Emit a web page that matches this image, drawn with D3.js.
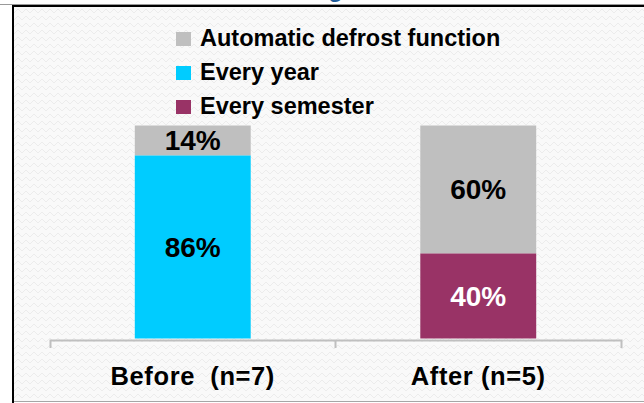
<!doctype html>
<html lang="en">
<head>
    <meta charset="utf-8">
    <title>Defrost frequency</title>
    <script src="https://cdnjs.cloudflare.com/ajax/libs/d3/7.8.5/d3.min.js"></script>
    <style>
        body { margin: 0; background: #fff; }
        svg text { font-family: "Liberation Sans", Arial, sans-serif; font-weight: bold; }
    </style>
</head>
<body>
    <div id="chart"></div>
    <script>
        // chart data
        var categories = ["Before  (n=7)", "After (n=5)"];
        var seriesNames = ["Automatic defrost function", "Every year", "Every semester"];
        var autoDefrost = [14, 60];
        var everyYear = [86, 0];
        var everySemester = [0, 40];
        var seriesColors = ["#BFBFBF", "#00CCFF", "#993366"];
        var labelColors = ["#000", "#000", "#fff"];

        var width = 644, height = 403;

        var svg = d3.select("#chart").append("svg")
            .attr("width", width)
            .attr("height", height);

        // faint zigzag background
        var pat = svg.append("defs").append("pattern")
            .attr("id", "zig")
            .attr("patternUnits", "userSpaceOnUse")
            .attr("width", 8).attr("height", 7);
        pat.append("rect").attr("width", 8).attr("height", 7).attr("fill", "#F9F9F9");
        pat.append("path")
            .attr("d", "M0,4 L2,2 L4,4 L6,6 L8,4")
            .attr("fill", "none")
            .attr("stroke", "#ECECEC")
            .attr("stroke-width", 1);

        svg.append("rect")
            .attr("x", 13).attr("y", 6)
            .attr("width", width - 13).attr("height", 395)
            .attr("fill", "url(#zig)");

        // title, cut off by the top of the picture
        svg.append("text")
            .attr("x", 343).attr("y", -3)
            .attr("text-anchor", "end")
            .attr("fill", "#1F5C99")
            .style("font-size", "24px")
            .text("Defrosting");

        // frame
        svg.append("line").attr("x1", 0).attr("x2", width).attr("y1", 4.5).attr("y2", 4.5)
            .attr("stroke", "#999").attr("stroke-width", 1);
        svg.append("line").attr("x1", 12).attr("x2", width).attr("y1", 6).attr("y2", 6)
            .attr("stroke", "#000").attr("stroke-width", 2);
        svg.append("line").attr("x1", 13).attr("x2", 13).attr("y1", 5).attr("y2", height)
            .attr("stroke", "#000").attr("stroke-width", 2);
        svg.append("line").attr("x1", 14).attr("x2", width).attr("y1", 401.5).attr("y2", 401.5)
            .attr("stroke", "#A6A6A6").attr("stroke-width", 1);

        // scales
        var x = d3.scaleBand().domain(categories).range([50, 621]).padding(0);
        var xBar = d3.scaleBand().domain(categories).range([50, 621])
            .paddingInner(0.594).paddingOuter(0.297);
        var y = d3.scaleLinear().domain([0, 100]).range([338.5, 125.5]);

        // stack: bottom segments first, automatic defrost on top
        var rows = categories.map(function(c, i) {
            return {
                cat: c,
                "Automatic defrost function": autoDefrost[i],
                "Every year": everyYear[i],
                "Every semester": everySemester[i]
            };
        });
        var stackKeys = ["Every year", "Every semester", "Automatic defrost function"];
        var stacked = d3.stack().keys(stackKeys)(rows);

        var layers = svg.append("g").selectAll("g.layer")
            .data(stacked)
            .enter().append("g")
            .attr("class", "layer");

        layers.each(function(layer) {
            var idx = seriesNames.indexOf(layer.key);
            var g = d3.select(this);
            var segs = layer.filter(function(d) { return d[1] - d[0] > 0; });

            g.selectAll("rect").data(segs).enter().append("rect")
                .attr("x", function(d) { return xBar(d.data.cat); })
                .attr("width", xBar.bandwidth())
                .attr("y", function(d) { return y(d[1]); })
                .attr("height", function(d) { return y(d[0]) - y(d[1]); })
                .attr("fill", seriesColors[idx]);

            g.selectAll("text").data(segs).enter().append("text")
                .attr("x", function(d) { return xBar(d.data.cat) + xBar.bandwidth() / 2; })
                .attr("y", function(d) { return (y(d[0]) + y(d[1])) / 2; })
                .attr("dy", "0.35em")
                .attr("text-anchor", "middle")
                .attr("fill", labelColors[idx])
                .style("font-size", "28px")
                .text(function(d) { return (d[1] - d[0]) + "%"; });
        });

        // x axis
        var xAxis = d3.axisBottom(x).tickSizeInner(0).tickSizeOuter(8).tickPadding(27);
        var axisG = svg.append("g")
            .attr("transform", "translate(0,340)")
            .call(xAxis);
        axisG.select(".domain").attr("stroke", "#BFBFBF").attr("stroke-width", 2);
        axisG.selectAll(".tick line").remove();
        axisG.selectAll(".tick text")
            .attr("fill", "#000")
            .style("font-size", "25.5px")
            .style("letter-spacing", "0.6px")
            .style("font-family", "'Liberation Sans', Arial, sans-serif")
            .style("white-space", "pre");
        // category boundary ticks
        axisG.selectAll("line.sep")
            .data(categories.slice(1))
            .enter().append("line")
            .attr("class", "sep")
            .attr("x1", function(d) { return x(d); })
            .attr("x2", function(d) { return x(d); })
            .attr("y1", 0).attr("y2", 8)
            .attr("stroke", "#BFBFBF").attr("stroke-width", 2);

        // legend
        var legend = svg.append("g").selectAll("g.legend")
            .data(seriesNames)
            .enter().append("g")
            .attr("class", "legend")
            .attr("transform", function(d, i) { return "translate(176," + (46 + i * 34) + ")"; });
        legend.append("rect")
            .attr("x", 0).attr("y", -14)
            .attr("width", 15).attr("height", 14)
            .attr("fill", function(d, i) { return seriesColors[i]; });
        legend.append("text")
            .attr("x", 24).attr("y", 0)
            .style("font-size", "23.5px")
            .text(function(d) { return d; });
    </script>
</body>
</html>
